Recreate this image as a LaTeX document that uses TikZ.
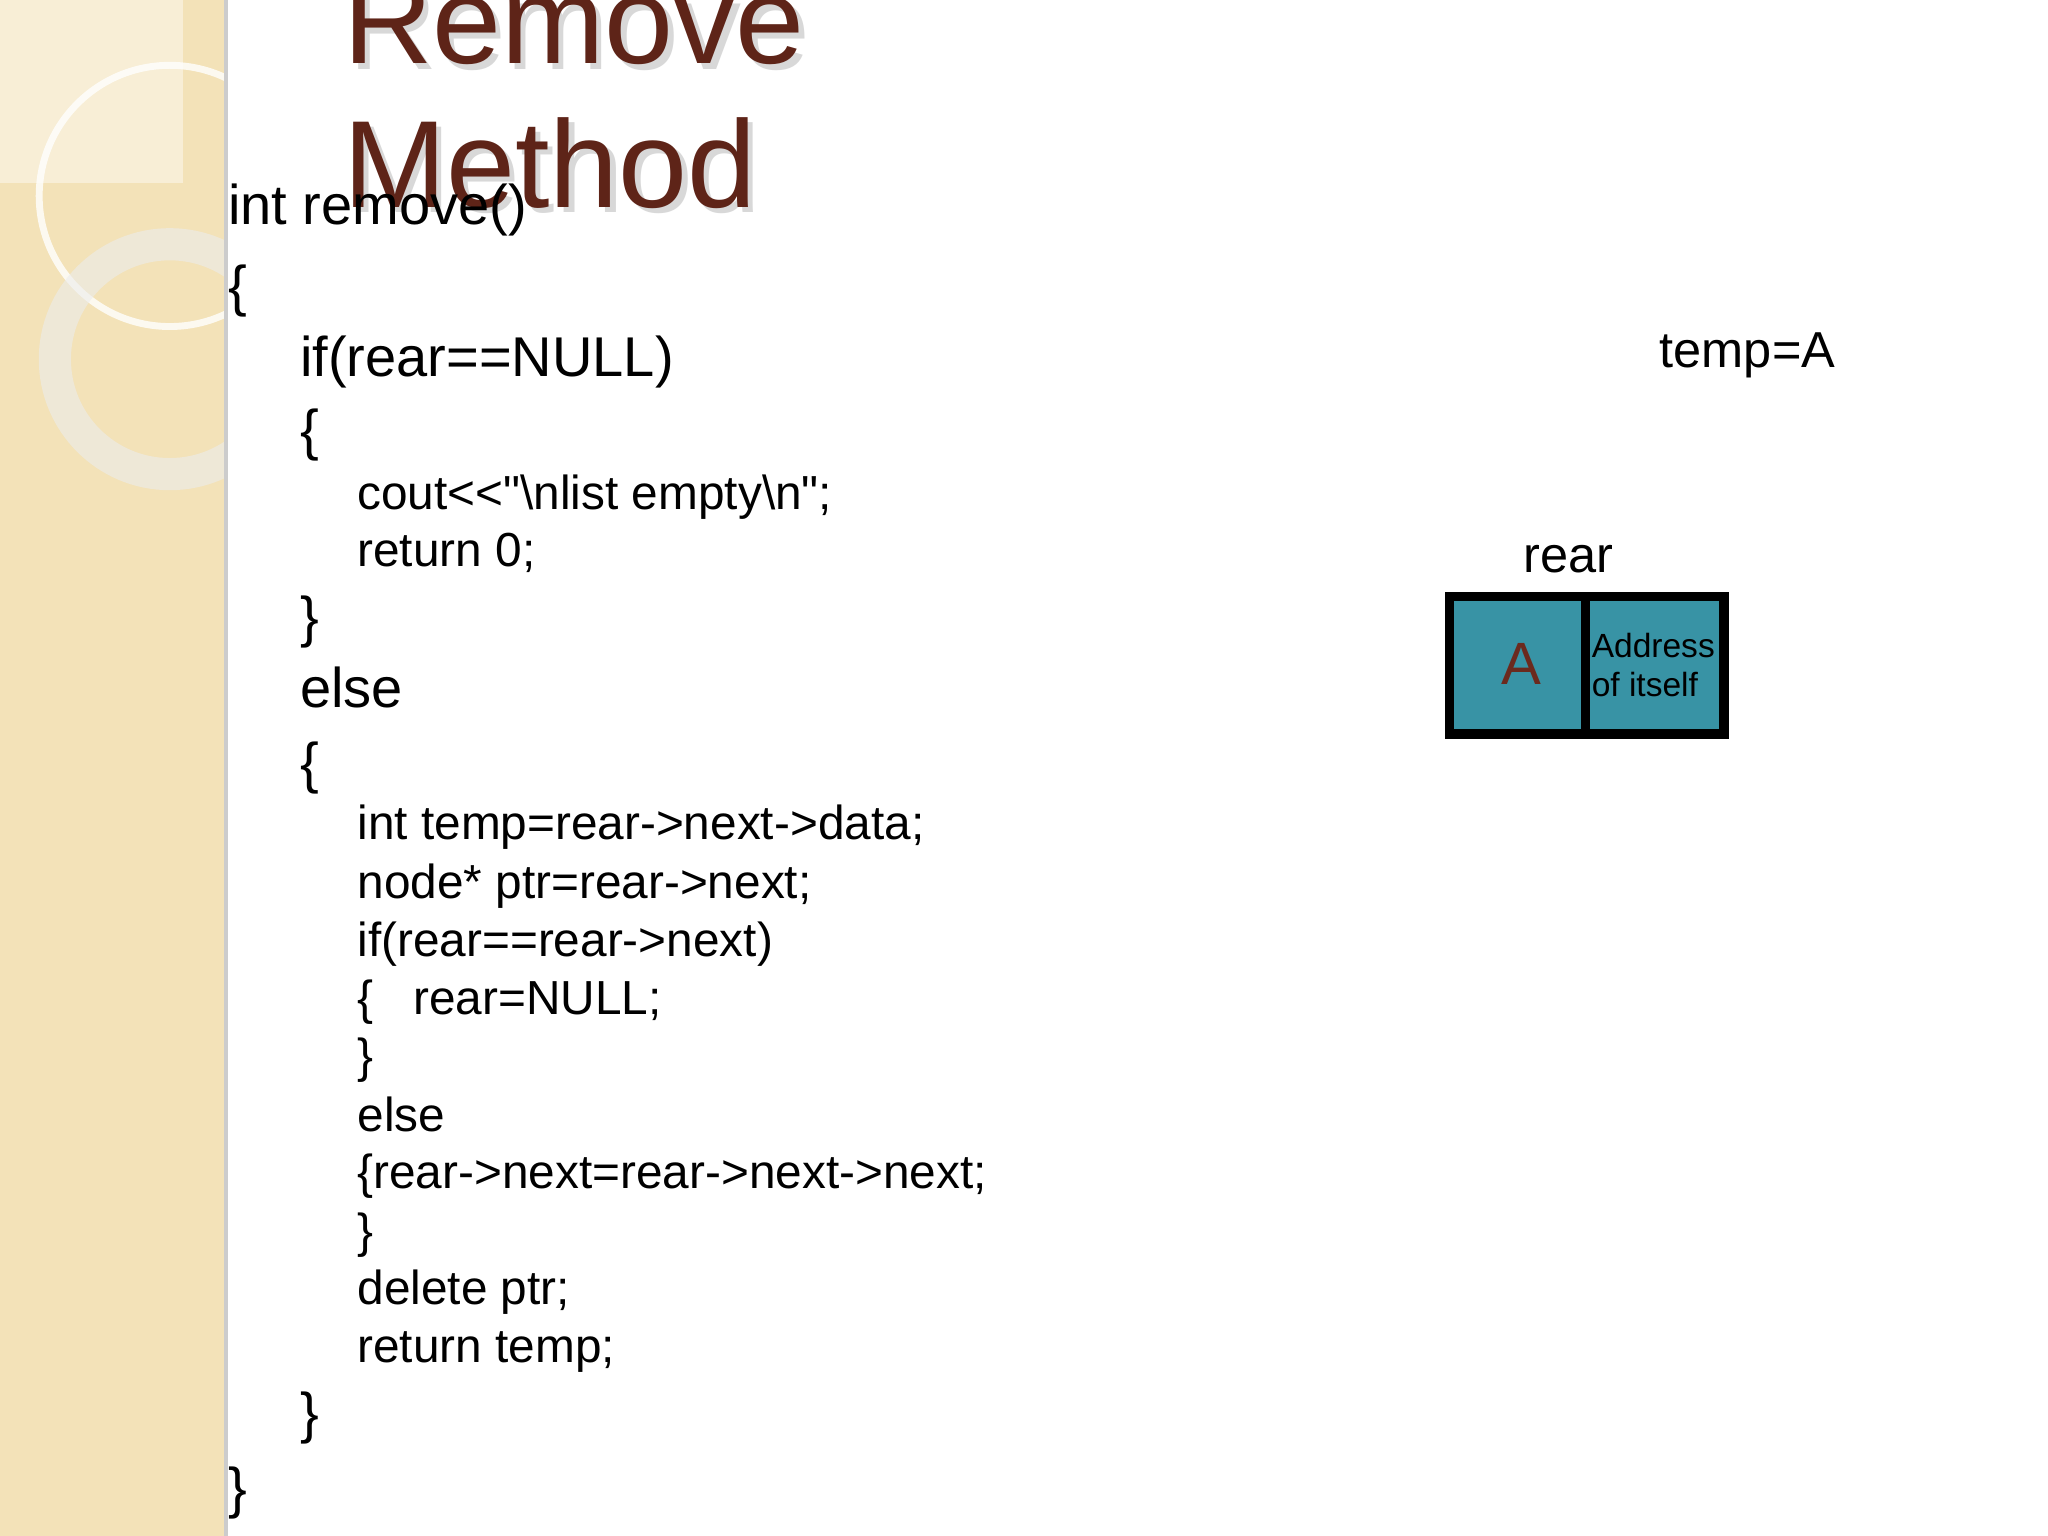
\documentclass[tikz,border=0pt]{standalone}
\usepackage{fontspec}
\setmainfont{Liberation Sans}
\newfontfamily\plainfont{Liberation Sans}
\definecolor{beige}{HTML}{F3E2B8}
\definecolor{beigeL}{HTML}{F8EED6}
\definecolor{teal}{HTML}{3893A5}
\definecolor{titlec}{HTML}{5E2418}
\definecolor{achar}{HTML}{6B2A1E}
\begin{document}
\begin{tikzpicture}[x=0.01cm,y=-0.01cm,
  big/.style={anchor=base west,inner sep=0pt,font=\fontsize{12.2}{14}\selectfont},
  code/.style={anchor=base west,inner sep=0pt,font=\fontsize{10.4}{12}\selectfont},
  ttl/.style={anchor=base west,inner sep=0pt,text=titlec,font=\fontsize{27}{32}\selectfont}]
\useasboundingbox (0,0) rectangle (1568,1176);
\fill[white] (0,0) rectangle (1568,1176);
\fill[beige] (0,0) rectangle (173,1176);
\fill[beigeL] (0,0) rectangle (140,140);
\begin{scope}
\clip (0,0) rectangle (173,1176);
\draw[white,line width=1.5pt,opacity=0.8] (130,150) circle (100);
\draw[white!85!gray,line width=7pt,opacity=0.6] (130,275) circle (88);
\end{scope}
\draw[gray!40,line width=1pt] (173,0) -- (173,1176);
% title
\node[ttl,text=gray!60,opacity=0.5] at (266,53) {Remove};
\node[ttl] (t1) at (262,49) {Remove};
\node[ttl,text=gray!60,opacity=0.5] at (266,163) {Method};
\node[ttl] (t2) at (262,159) {Method};
% code
\node[big] (c1) at (174,172) {int remove()};
\node[big] (c2) at (174,234) {\{};
\node[big] (c3) at (229,288) {if(rear==NULL)};
\node[big] (c4) at (229,344) {\{};
\node[code] (c5) at (273,390) {\plainfont cout<<"\textbackslash nlist empty\textbackslash n";};
\node[code] (c6) at (273,434) {return 0;};
\node[big] (c7) at (229,487) {\}};
\node[big] (c8) at (229,542) {else};
\node[big] (c9) at (229,599) {\{};
\node[code] at (273,643) {int temp=rear->next->data;};
\node[code] at (273,688) {node* ptr=rear->next;};
\node[code] at (273,732) {if(rear==rear->next)};
\node[code] at (273,777) {\{\ \ \ rear=NULL;};
\node[code] at (273,821) {\}};
\node[code] at (273,866) {else};
\node[code] at (273,910) {\{rear->next=rear->next->next;};
\node[code] at (273,955) {\}};
\node[code] at (273,999) {delete ptr;};
\node[code] at (273,1043) {return temp;};
\node[big] at (229,1097) {\}};
\node[big] at (174,1154) {\}};
% diagram
\node[anchor=base west,inner sep=0pt,font=\fontsize{11}{13}\selectfont] (tmp) at (1270,281) {temp=A};
\node[anchor=base west,inner sep=0pt,font=\fontsize{11}{13}\selectfont] (rear) at (1166,438) {rear};
\draw[fill=teal,line width=2pt] (1110,457) rectangle (1320,562);
\draw[line width=2pt] (1214,457) -- (1214,562);
\node[text=achar,font=\fontsize{13}{15}\selectfont] (A) at (1165,508) {A};
\node[anchor=west,align=left,inner sep=0pt,font=\fontsize{7.3}{8.6}\selectfont] (addr) at (1218,509) {Address\\of itself};
\end{tikzpicture}
\end{document}
